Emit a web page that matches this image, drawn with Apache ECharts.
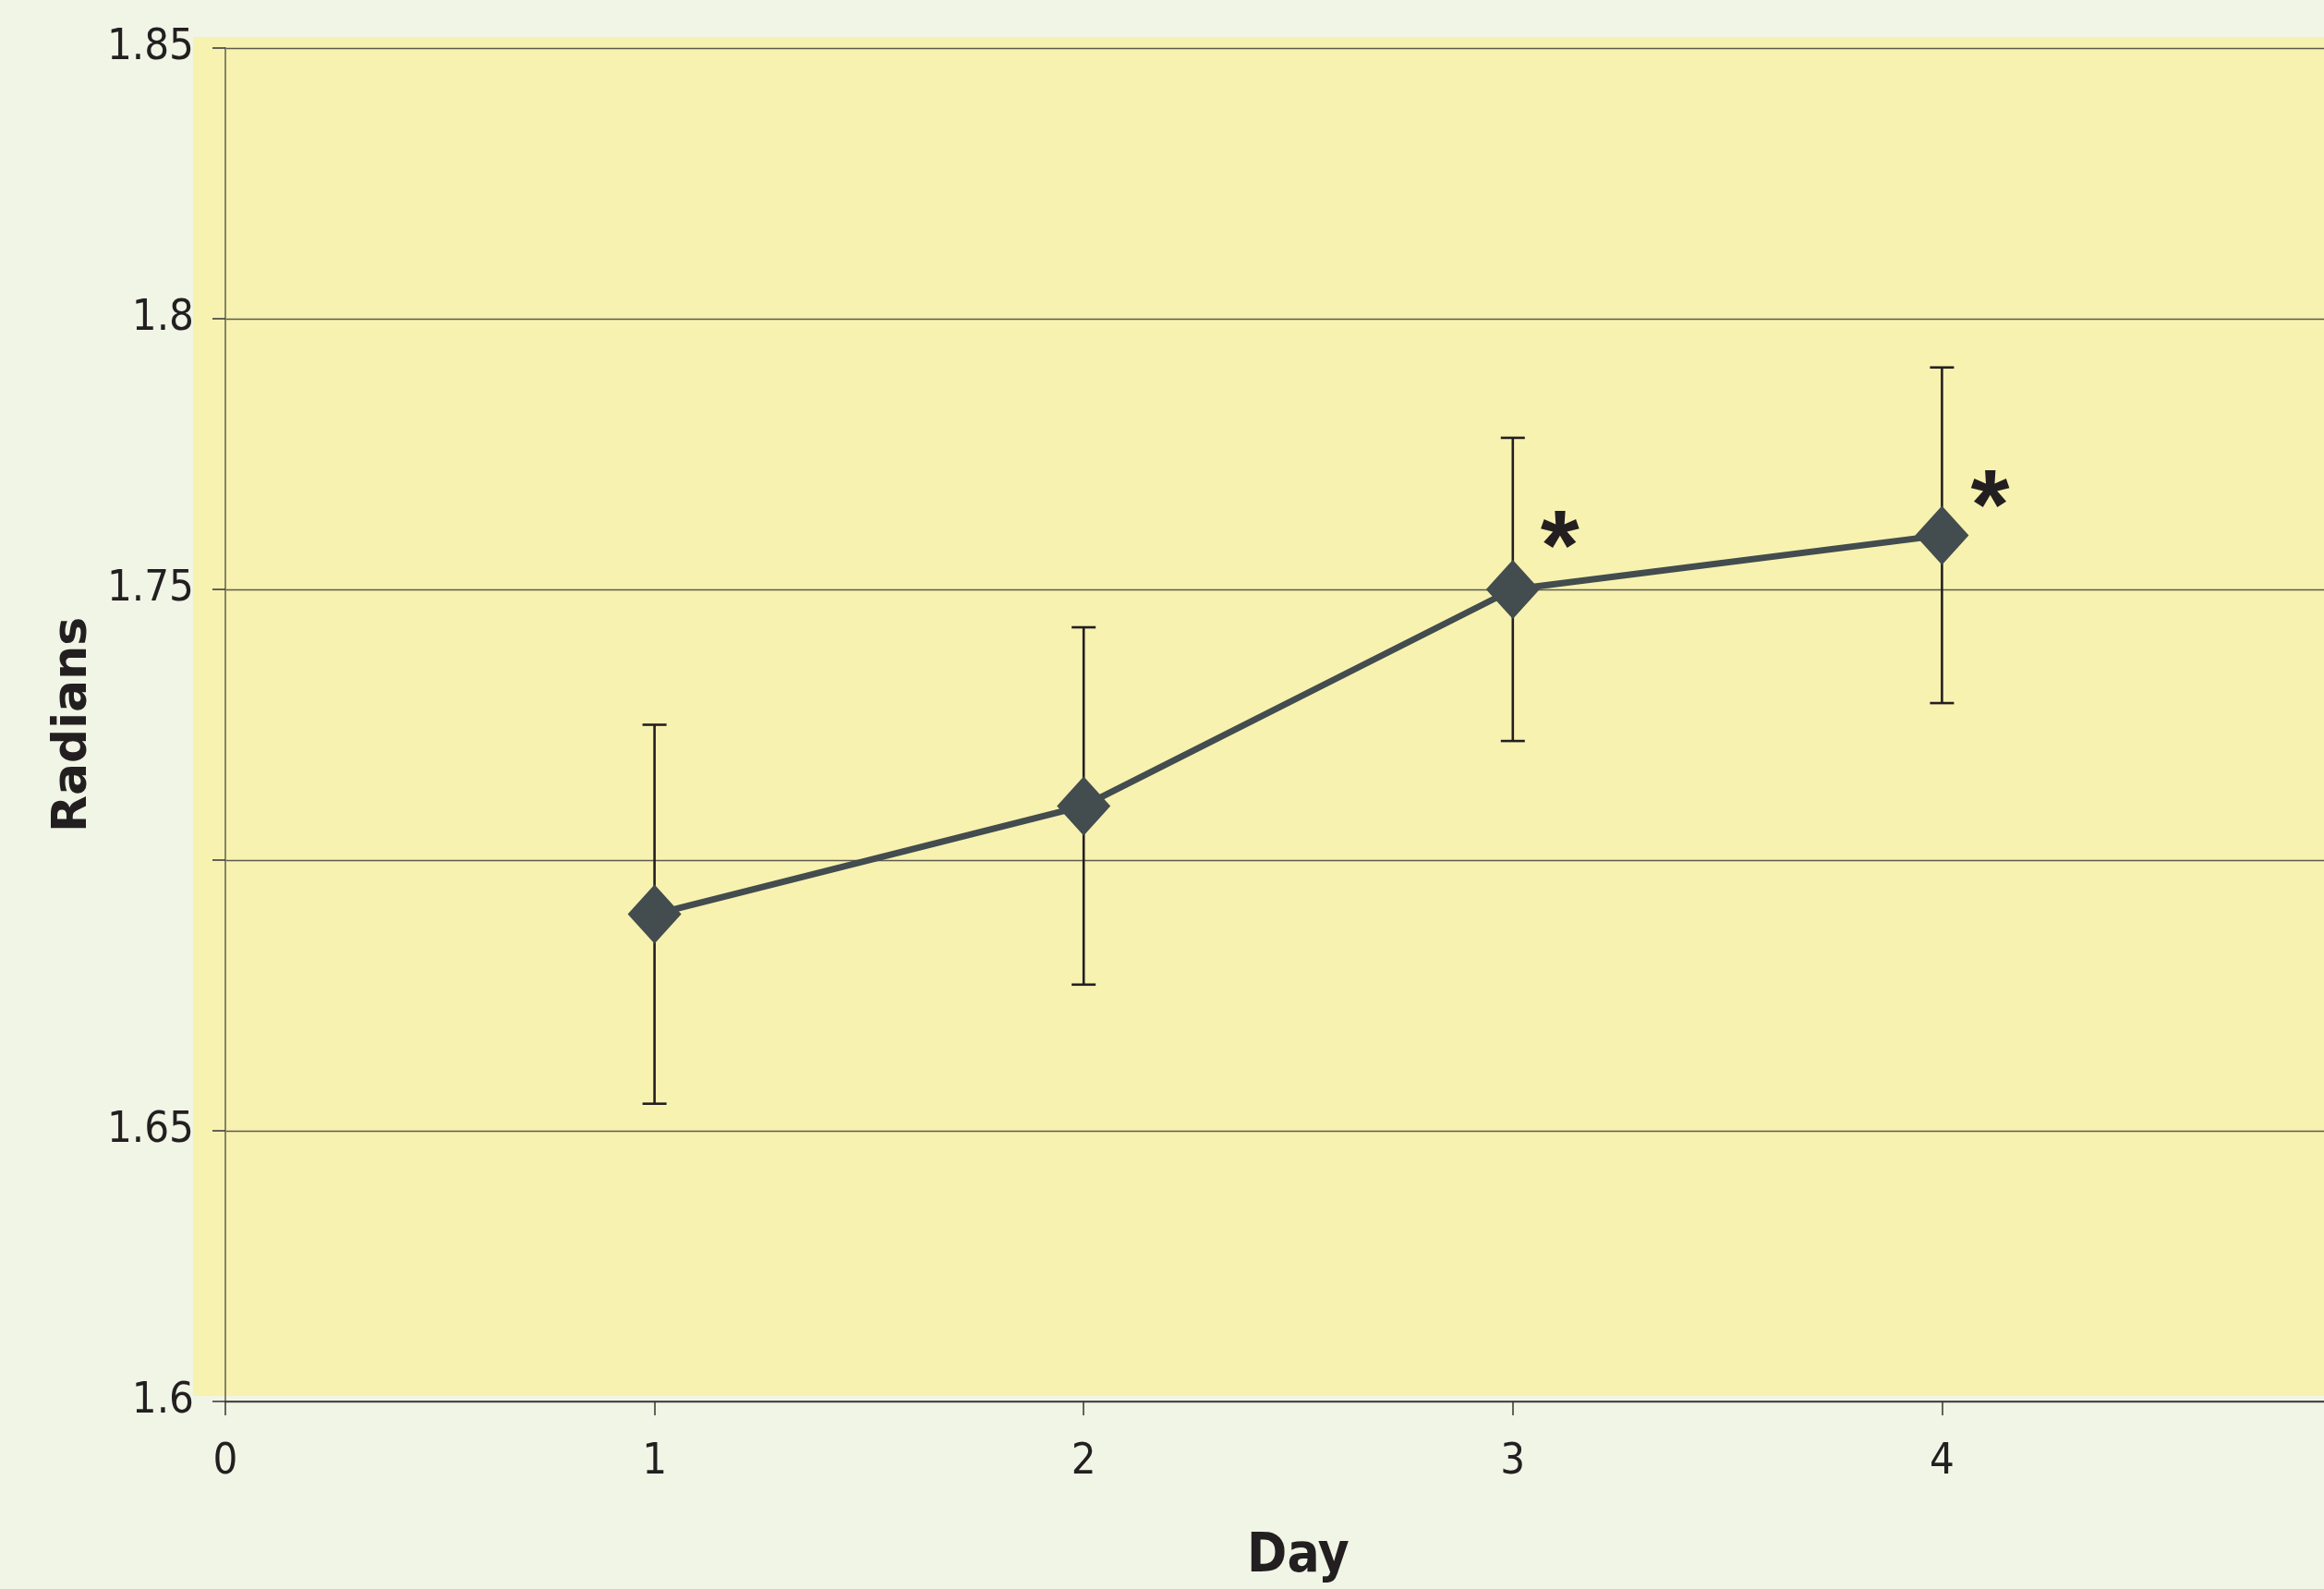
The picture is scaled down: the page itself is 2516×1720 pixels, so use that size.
<!DOCTYPE html>
<html>
<head>
<meta charset="utf-8">
<script src="https://cdn.jsdelivr.net/npm/echarts@6/dist/echarts.min.js"></script>
<style>
  html, body { margin: 0; padding: 0; background: #f0f5e6; overflow: hidden; }
  #chart { width: 2640px; height: 1720px; }
</style>
</head>
<body>
<div id="chart"></div>
<script>
// ---- data ----
const days = [1, 2, 3, 4];
const means = [1.690, 1.710, 1.750, 1.760];
const errLow = [1.655, 1.677, 1.722, 1.729];
const errHigh = [1.725, 1.743, 1.778, 1.791];
const significance = ['', '', '*', '*'];
const xTickLabels = ['0', '1', '2', '3', '4', '5'];
const yTickValues = [1.6, 1.65, 1.7, 1.75, 1.8, 1.85];
const yTickLabels = ['1.6', '1.65', '', '1.75', '1.8', '1.85'];
const xTitle = 'Day';
const yTitle = 'Radians';

// ---- styling ----
const narrow = "'Liberation Sans Narrow', 'DejaVu Sans Condensed', 'Liberation Sans', sans-serif";
const inkColor = '#231f20';
const lineColor = '#434c4e';
const starOffsets = [null, null, [51, -41], [52, -26]];

const chart = echarts.init(document.getElementById('chart'), null, { renderer: 'canvas' });

const lineData = days.map((d, i) => {
  const item = { value: [d, means[i]] };
  if (significance[i]) {
    item.label = {
      show: true,
      formatter: significance[i],
      position: 'inside',
      offset: starOffsets[i],
      fontSize: 108,
      fontWeight: 'bold',
      fontFamily: "'Liberation Sans', Arial, sans-serif",
      color: inkColor
    };
  }
  return item;
});

const errData = days.map((d, i) => [d, errLow[i], errHigh[i]]);

const option = {
  backgroundColor: '#f0f5e6',
  animation: false,
  graphic: [{
    type: 'rect',
    z: -100,
    silent: true,
    shape: { x: 209, y: 40, width: 2640 - 209, height: 1511 - 40 },
    style: { fill: '#f7f2b0' }
  }],
  grid: { left: 244, top: 52, width: 2323, height: 1470, containLabel: false },
  xAxis: {
    type: 'value',
    min: 0, max: 5, interval: 1,
    name: xTitle,
    nameLocation: 'middle',
    nameGap: 140,
    nameTextStyle: { fontFamily: narrow, fontWeight: 'bold', fontSize: 58, color: inkColor },
    axisLine: { show: true, onZero: false, lineStyle: { color: '#333333', width: 1.5 } },
    axisTick: { show: true, length: 15, inside: false, lineStyle: { color: '#333333', width: 1.5 } },
    axisLabel: {
      margin: 42,
      fontFamily: narrow, fontSize: 47, color: inkColor,
      formatter: v => xTickLabels[Math.round(v)] ?? ''
    },
    splitLine: { show: false }
  },
  yAxis: {
    type: 'value',
    min: 1.6, max: 1.85, interval: 0.05,
    name: yTitle,
    nameLocation: 'middle',
    nameRotate: 90,
    nameGap: 135,
    nameTextStyle: { fontFamily: "'DejaVu Sans', sans-serif", fontWeight: 'bold', fontSize: 52, color: inkColor },
    axisLine: { show: true, onZero: false, lineStyle: { color: '#858365', width: 2 } },
    axisTick: { show: true, length: 14, inside: false, lineStyle: { color: '#333333', width: 1.5 } },
    axisLabel: {
      margin: 34,
      fontFamily: narrow, fontSize: 47, color: inkColor,
      formatter: v => {
        let best = 0;
        yTickValues.forEach((t, i) => { if (Math.abs(t - v) < Math.abs(yTickValues[best] - v)) best = i; });
        return yTickLabels[best];
      }
    },
    splitLine: { show: true, lineStyle: { color: '#5c5b4c', width: 1.3 } }
  },
  series: [
    {
      type: 'custom',
      z: 2,
      silent: true,
      renderItem: (params, api) => {
        const x = api.value(0);
        const pLo = api.coord([x, api.value(1)]);
        const pHi = api.coord([x, api.value(2)]);
        const hw = 13;
        const style = { stroke: inkColor, lineWidth: 2.6 };
        return {
          type: 'group',
          children: [
            { type: 'line', shape: { x1: pHi[0], y1: pHi[1], x2: pLo[0], y2: pLo[1] }, style },
            { type: 'line', shape: { x1: pHi[0] - hw, y1: pHi[1], x2: pHi[0] + hw, y2: pHi[1] }, style },
            { type: 'line', shape: { x1: pLo[0] - hw, y1: pLo[1], x2: pLo[0] + hw, y2: pLo[1] }, style }
          ]
        };
      },
      data: errData
    },
    {
      type: 'line',
      z: 3,
      data: lineData,
      symbol: 'diamond',
      symbolSize: [58, 64],
      itemStyle: { color: lineColor },
      lineStyle: { color: lineColor, width: 7 },
      label: { show: false }
    }
  ]
};

chart.setOption(option);
</script>
</body>
</html>
